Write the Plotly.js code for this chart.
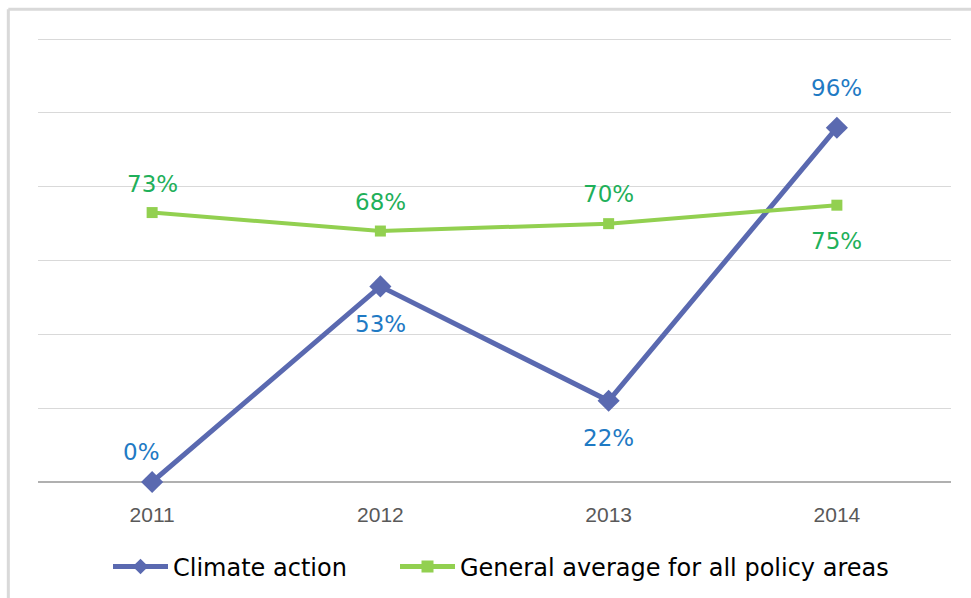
<!DOCTYPE html>
<html>
<head>
<meta charset="utf-8">
<script src="https://cdn.plot.ly/plotly-3.0.1.min.js"></script>
<style>
html,body{margin:0;padding:0;background:#fff;}
#chart{width:971px;height:598px;}
</style>
</head>
<body>
<div id="chart"></div>
<script>
const years = ["2011", "2012", "2013", "2014"];
const climateAction = [0, 53, 22, 96];
const generalAverage = [73, 68, 70, 75];

// label placement (pixel shifts relative to each point)
const climateShift = [[-11, 30], [0, -38], [0, -37], [0, 40]];
const averageShift = [[0, 29], [0, 29], [0, 30], [0, -36]];

const traces = [
  {
    x: years, y: climateAction, name: "Climate action",
    type: "scatter", mode: "lines+markers",
    line: {color: "#5a69b0", width: 5},
    marker: {symbol: "diamond", size: 17, color: "#5a69b0"},
    cliponaxis: false, legend: "legend"
  },
  {
    x: years, y: generalAverage, name: "General average for all policy areas",
    type: "scatter", mode: "lines+markers",
    line: {color: "#92d050", width: 4},
    marker: {symbol: "square", size: 11, color: "#92d050"},
    cliponaxis: false, legend: "legend2"
  }
];

const annotations = [];
years.forEach((yr, i) => {
  annotations.push({
    x: i, y: climateAction[i], text: climateAction[i] + "%", showarrow: false,
    xshift: climateShift[i][0], yshift: climateShift[i][1],
    font: {family: "DejaVu Sans", size: 23, color: "#1f7ac4"}
  });
  annotations.push({
    x: i, y: generalAverage[i], text: generalAverage[i] + "%", showarrow: false,
    xshift: averageShift[i][0], yshift: averageShift[i][1],
    font: {family: "DejaVu Sans", size: 23, color: "#1fb05a"}
  });
});

const legendBase = {
  orientation: "h", xref: "container", xanchor: "left",
  yref: "container", y: 0.052, yanchor: "middle",
  font: {family: "DejaVu Sans", size: 24, color: "#000"},
  itemwidth: 55, itemsizing: "constant", bgcolor: "rgba(0,0,0,0)"
};

const layout = {
  width: 971, height: 598,
  margin: {l: 38, r: 20, t: 38, b: 116, autoexpand: false},
  paper_bgcolor: "#fff", plot_bgcolor: "#fff",
  showlegend: true,
  legend: Object.assign({}, legendBase, {x: 108 / 971}),
  legend2: Object.assign({}, legendBase, {x: 395 / 971}),
  xaxis: {
    type: "category", range: [-0.5, 3.5], automargin: false,
    showgrid: false, zeroline: false,
    showline: false,
    ticks: "", ticklabelstandoff: 18,
    tickfont: {family: "Liberation Sans", size: 21, color: "#595959"},
    fixedrange: true
  },
  yaxis: {
    range: [0, 120.3], dtick: 20, automargin: false,
    showticklabels: false,
    showgrid: true, gridcolor: "#d9d9d9", gridwidth: 1,
    zeroline: true, zerolinecolor: "#b0b0b0", zerolinewidth: 1.5,
    showline: false, ticks: "",
    fixedrange: true
  },
  annotations: annotations,
  shapes: [
    {type: "line", xref: "paper", yref: "paper", x0: -0.0325, x1: 1.1, y0: 1.065, y1: 1.065,
     line: {color: "#d9d9d9", width: 3}},
    {type: "line", xref: "paper", yref: "paper", x0: -0.0325, x1: -0.0325, y0: 1.065, y1: -0.5,
     line: {color: "#d9d9d9", width: 3}}
  ]
};

Plotly.newPlot("chart", traces, layout, {displayModeBar: false, staticPlot: true});
</script>
</body>
</html>
